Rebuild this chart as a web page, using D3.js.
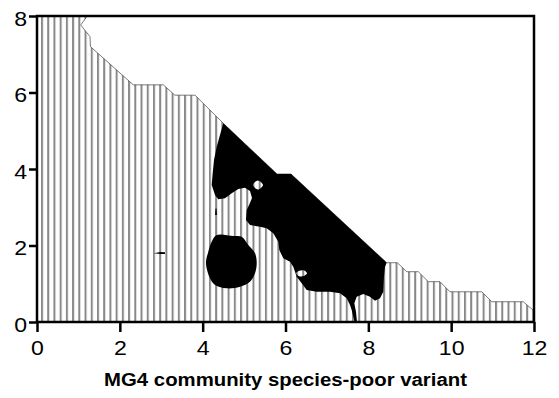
<!DOCTYPE html>
<html><head><meta charset="utf-8">
<script src="https://cdn.jsdelivr.net/npm/d3@7"></script>
<style>
html,body{margin:0;padding:0;background:#fff;}
svg{display:block;font-family:"Liberation Sans",Arial,Helvetica,sans-serif;}
</style></head>
<body>
<script>
// ---- data ----
const xTicks = [0, 2, 4, 6, 8, 10, 12];
const yTicks = [0, 2, 4, 6, 8];
const xLabel = "MG4 community species-poor variant";

// upper edge of the hatched (fitted) region
const boundary = [
  [0, 8], [1.215, 8], [1.055, 7.765], [1.28, 7.46], [1.29, 7.20],
  [2.325, 6.20], [3.05, 6.20], [3.33, 5.93], [3.815, 5.93],
  [4.498, 5.195], [5.795, 3.869], [6.133, 3.869], [8.443, 1.55],
  [8.70, 1.55], [8.93, 1.315], [9.205, 1.315], [9.45, 1.054],
  [9.73, 1.054], [9.97, 0.79], [10.74, 0.79], [10.98, 0.53],
  [11.74, 0.53], [11.98, 0.31], [12, 0.31]
];

// main solid region
const mainBlob = [
  [4.498, 5.195], [4.418, 4.889], [4.339, 4.583], [4.274, 4.235], [4.242, 3.888],
  [4.218, 3.582], [4.298, 3.320], [4.377, 3.208], [4.539, 3.234], [4.701, 3.365],
  [4.860, 3.477], [5.022, 3.511], [5.143, 3.425], [5.191, 3.242], [5.131, 3.085],
  [5.063, 2.928], [5.046, 2.667], [5.143, 2.536], [5.384, 2.492], [5.546, 2.450],
  [5.705, 2.319], [5.826, 2.099], [5.850, 1.882], [5.947, 1.665], [6.109, 1.576],
  [6.188, 1.446], [6.270, 1.184], [6.391, 1.012], [6.512, 0.837], [6.753, 0.792],
  [7.074, 0.792], [7.316, 0.750], [7.478, 0.620], [7.557, 0.444], [7.598, 0.314],
  [7.637, 0.139], [7.666, 0], [7.726, 0], [7.702, 0.269], [7.661, 0.489],
  [7.719, 0.661], [7.878, 0.732], [8.040, 0.661], [8.161, 0.557], [8.282, 0.620],
  [8.361, 0.792], [8.378, 1.184], [8.402, 1.446], [8.443, 1.550],
  [6.133, 3.869], [5.795, 3.869]
];
const hole1 = [[5.215, 3.582], [5.336, 3.70], [5.457, 3.582], [5.336, 3.464]];
const hole2 = [[6.254, 1.273], [6.33, 1.34], [6.44, 1.35], [6.519, 1.273], [6.44, 1.20], [6.33, 1.195]];

// round solid region
const roundBlob = [
  [4.339, 2.275], [4.740, 2.248], [4.942, 2.230], [5.102, 2.013], [5.264, 1.796],
  [5.305, 1.535], [5.264, 1.273], [5.143, 1.054], [4.901, 0.923], [4.580, 0.881],
  [4.298, 0.967], [4.177, 1.142], [4.080, 1.535], [4.136, 1.838], [4.218, 2.099]
];
// tiny specks
const speck1 = [[2.82, 1.80], [2.98, 1.83], [3.09, 1.825], [3.09, 1.775], [2.98, 1.775]];
const speck2 = [[4.30, 2.80], [4.345, 2.80], [4.335, 2.97], [4.31, 2.97]];

// ---- layout ----
const W = 559, H = 398;
const m = {left: 37, right: 25, top: 16, bottom: 76};
const x = d3.scaleLinear().domain([0, 12]).range([m.left, W - m.right]);
const y = d3.scaleLinear().domain([0, 8]).range([H - m.bottom, m.top]);

const svg = d3.select("body").append("svg").attr("width", W).attr("height", H);
svg.append("rect").attr("width", W).attr("height", H).attr("fill", "#fff");

const defs = svg.append("defs");
const pat = defs.append("pattern").attr("id", "hatch")
  .attr("patternUnits", "userSpaceOnUse")
  .attr("x", 41).attr("y", 0).attr("width", 6.22).attr("height", 20);
pat.append("rect").attr("x", 0).attr("y", 0).attr("width", 2).attr("height", 20).attr("fill", "#888");

const line = d3.line().x(d => x(d[0])).y(d => y(d[1]));
const closedLin = d3.line().x(d => x(d[0])).y(d => y(d[1])).curve(d3.curveLinearClosed);
const closedSmooth = d3.line().x(d => x(d[0])).y(d => y(d[1])).curve(d3.curveCatmullRomClosed.alpha(0.5));

// hatched region
const region = boundary.concat([[12, 0], [0, 0]]);
svg.append("path").attr("d", closedLin(region)).attr("fill", "url(#hatch)");
svg.append("path").attr("d", line(boundary.slice(1))).attr("fill", "none")
  .attr("stroke", "#444").attr("stroke-width", 0.7);

// solid regions
svg.append("path")
  .attr("d", closedLin(mainBlob) + closedSmooth(hole1) + closedSmooth(hole2))
  .attr("fill", "#000").attr("fill-rule", "evenodd");
svg.append("path").attr("d", closedSmooth(roundBlob)).attr("fill", "#000");
svg.append("path").attr("d", closedLin(speck1)).attr("fill", "#000");
svg.append("path").attr("d", closedLin(speck2)).attr("fill", "#000");

// frame
svg.append("rect")
  .attr("x", x(0)).attr("y", y(8))
  .attr("width", x(12) - x(0)).attr("height", y(0) - y(8))
  .attr("fill", "none").attr("stroke", "#000").attr("stroke-width", 2.5);

// axes
const gx = svg.append("g").attr("transform", `translate(0,${y(0)})`)
  .call(d3.axisBottom(x).tickValues(xTicks).tickSize(10).tickPadding(8).tickFormat(d3.format("d")));
const gy = svg.append("g").attr("transform", `translate(${x(0)},0)`)
  .call(d3.axisLeft(y).tickValues(yTicks).tickSize(8).tickPadding(1).tickFormat(d3.format("d")));
[gx, gy].forEach(g => {
  g.select(".domain").remove();
  g.selectAll(".tick line").attr("stroke", "#000").attr("stroke-width", 2.5);
  g.selectAll(".tick text").attr("fill", "#000")
    .style("font-family", '"Liberation Sans",Arial,sans-serif').style("font-size", "21px")
    .attr("transform", "scale(1.1,1)");
});
gy.selectAll(".tick text").attr("dy", "0.45em");

// x-axis title
svg.append("text")
  .attr("transform", `translate(${(x(0) + x(12)) / 2},386) scale(1.1,1)`)
  .attr("text-anchor", "middle")
  .style("font-family", '"Liberation Sans",Arial,sans-serif')
  .style("font-weight", "bold").style("font-size", "18.5px")
  .text(xLabel);
</script>
</body></html>
